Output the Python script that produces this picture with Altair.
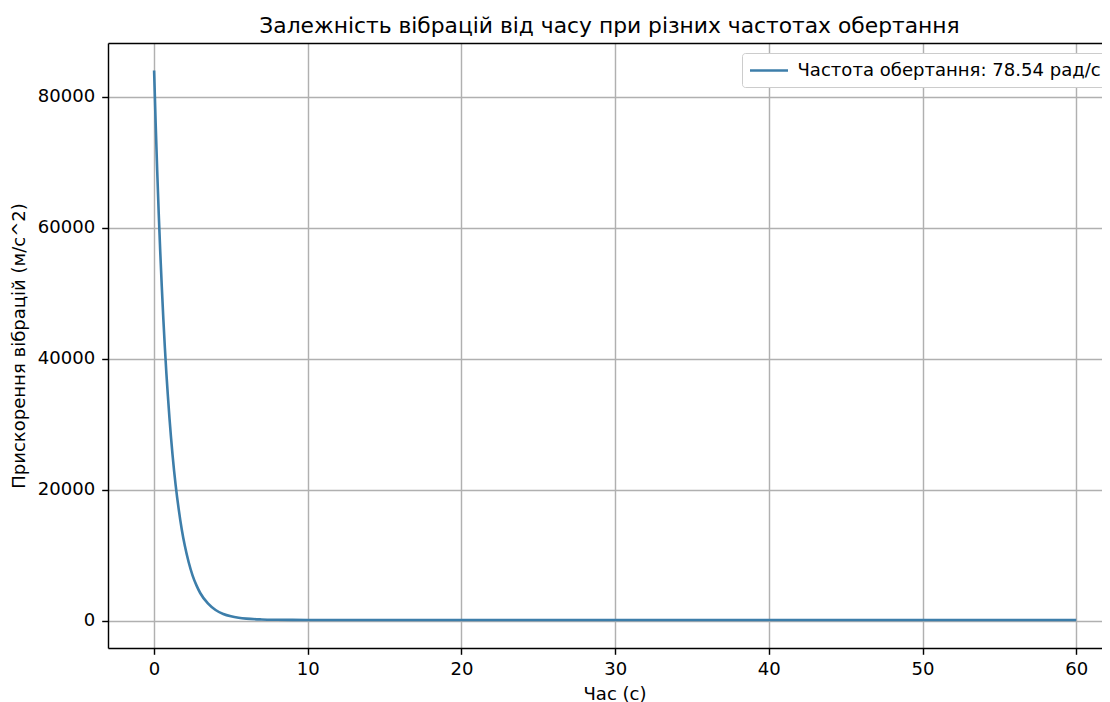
import altair as alt
import pandas as pd

# values
time_s = [0, 0.1, 0.2, 0.3, 0.4, 0.5, 0.6, 0.7, 0.8, 0.9, 1.0, 1.2, 1.4, 1.6, 1.8,
          2.0, 2.25, 2.5, 2.75, 3.0, 3.5, 4.0, 4.5, 5.0, 5.5, 6.0, 7.0, 8.0, 9.0,
          10, 15, 20, 25, 30, 35, 40, 45, 50, 55, 60]
accel = [84000, 76000, 68800, 62200, 56300, 51000, 46100, 41700, 37700, 34200,
         30900, 25300, 20700, 17000, 13900, 11400, 8900, 6900, 5400, 4200,
         2600, 1600, 1000, 650, 430, 290, 160, 110, 90,
         80, 75, 75, 75, 75, 75, 75, 75, 75, 75, 75]
series_label = "Частота обертання: 78.54 рад/с"
chart_title = "Залежність вібрацій від часу при різних частотах обертання"
x_ticks = [0, 10, 20, 30, 40, 50, 60]
y_ticks = [0, 20000, 40000, 60000, 80000]

df = pd.DataFrame({"t": time_s, "a": accel, "series": series_label})

FONT = "DejaVu Sans"
LINE_COLOR = "#3d7eaa"
FS = 18.06

xscale = alt.Scale(domain=[-3, 61.68], nice=False, zero=False)
yscale = alt.Scale(domain=[-4200, 88200], nice=False, zero=False)

line = alt.Chart(df).mark_line(strokeWidth=2.6, interpolate="monotone", clip=True).encode(
    x=alt.X("t:Q", scale=xscale,
            axis=alt.Axis(values=x_ticks, title="Час (с)", grid=True, labelPadding=6.3,
                          titleY=51, titleBaseline="alphabetic",
                          titleX=506.5, titleAlign="center", titleAnchor="start")),
    y=alt.Y("a:Q", scale=yscale,
            axis=alt.Axis(values=y_ticks, format="d", title="Прискорення вібрацій (м/с^2)",
                          grid=True, labelPadding=7, titleX=-88.5, titleY=302.5,
                          titleAlign="center", titleAnchor="start",
                          titleBaseline="middle", titleAngle=270)),
    color=alt.Color("series:N", scale=alt.Scale(range=[LINE_COLOR]),
                    legend=alt.Legend(title=None, orient="none", legendX=634, legendY=10,
                                      symbolType="M-2,0H2", symbolSize=361,
                                      symbolOffset=9.5, symbolStrokeWidth=2.6,
                                      labelOffset=17.5, labelFontSize=FS, labelFont=FONT,
                                      labelColor="#000000", padding=6.5,
                                      strokeColor="#cccccc", fillColor="#ffffff",
                                      cornerRadius=3, labelLimit=600)),
)

top_spine = alt.Chart(df).mark_rule(opacity=0).encode(
    x=alt.X("t:Q", scale=xscale,
            axis=alt.Axis(orient="top", labels=False, ticks=False, grid=False,
                          domain=True, title=None)),
)

chart = alt.layer(line, top_spine).resolve_axis(x="independent").properties(
    width=994,
    height=605,
    autosize=alt.AutoSizeParams(type="none"),
    padding={"left": 100, "top": 35, "right": 0, "bottom": 56},
    title=alt.TitleParams(chart_title,
                          font=FONT, fontSize=21.8, fontWeight="normal", color="#000000",
                          anchor="middle", dx=4.5, dy=21, offset=9.5, baseline="alphabetic"),
).configure_view(stroke=None).configure_axis(
    labelFont=FONT, labelFontSize=FS, labelColor="#000000",
    titleFont=FONT, titleFontSize=FS, titleColor="#000000", titleFontWeight="normal",
    tickColor="#000000", tickSize=6.3, tickWidth=1.44,
    domainColor="#000000", domainWidth=1.44,
    gridColor="#b0b0b0", gridWidth=1.44,
)

chart.save("out.html", embed_options={"renderer": "svg", "actions": False})
